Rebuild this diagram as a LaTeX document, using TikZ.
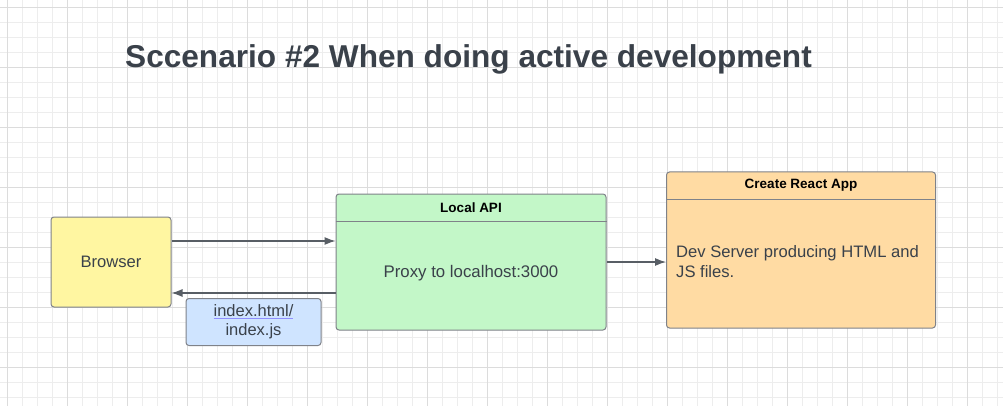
\documentclass[tikz,border=0pt]{standalone}
\usepackage{fontspec}
\setmainfont{Liberation Sans}
\usepackage{tikz}
\usetikzlibrary{arrows.meta,positioning}
\definecolor{ink}{HTML}{3A414A}
\definecolor{edge}{HTML}{7F8289}
\definecolor{gridminor}{HTML}{EDEDED}
\definecolor{gridmajor}{HTML}{DCDCDC}
\definecolor{browserfill}{HTML}{FFF6A1}
\definecolor{apifill}{HTML}{C3F7C8}
\definecolor{crafill}{HTML}{FFDBA3}
\definecolor{filefill}{HTML}{CFE4FF}
\definecolor{linkline}{HTML}{8F8FFF}

\begin{document}
\begin{tikzpicture}[x=1pt,y=-1pt,>={Latex[length=11pt,width=8pt]}]
\tikzstyle{box}=[rectangle,draw=edge,line width=1pt,rounded corners=3pt,text=ink,font=\fontsize{16.6}{20}\selectfont,inner sep=0pt]
\tikzstyle{head}=[font=\bfseries\fontsize{13.5}{15}\selectfont,text=black,inner sep=0pt]
\tikzstyle{link}=[draw=ink!85,line width=1.2pt]
\useasboundingbox (0,0) rectangle (1003,406);
\fill[white] (0,0) rectangle (1003,406);
% grid
\foreach \g in {7,22,...,1003} {\draw[gridminor,line width=0.8pt] (\g,0) -- (\g,406);}
\foreach \g in {7,22,...,406} {\draw[gridminor,line width=0.8pt] (0,\g) -- (1003,\g);}
\foreach \g in {7,67,...,1003} {\draw[gridmajor,line width=0.8pt] (\g,0) -- (\g,406);}
\foreach \g in {7,67,...,406} {\draw[gridmajor,line width=0.8pt] (0,\g) -- (1003,\g);}
% title
\node[anchor=base west,font=\bfseries\fontsize{31.6}{36}\selectfont,text=ink,inner sep=0pt] (title) at (125,68) {Sccenario \#2 When doing active development};
% boxes
\node[box,fill=browserfill,minimum width=120pt,minimum height=90pt] (browser) at (111,262) {Browser};
\node[box,fill=apifill,minimum width=270pt,minimum height=136pt] (api) at (471,262) {};
\node[box,fill=crafill,minimum width=269pt,minimum height=156pt] (cra) at (801,250) {};
\node[box,fill=filefill,minimum width=135pt,minimum height=47pt,align=center,font=\fontsize{16.5}{19}\selectfont] (files) at (253.5,322) {{\color{linkline}\underline{\textcolor{ink}{index.html/}}}\\index.js};
% headers
\node[head] (apihead) at ([yshift=-14pt]api.north) {Local API};
\draw[edge,line width=1pt] ([yshift=-28pt]api.north west) -- ([yshift=-28pt]api.north east);
\node[head] (crahead) at ([yshift=-14pt]cra.north) {Create React App};
\draw[edge,line width=1pt] ([yshift=-28pt]cra.north west) -- ([yshift=-28pt]cra.north east);
% body texts
\node[text=ink,font=\fontsize{16.8}{20}\selectfont,inner sep=0pt] (apibody) at ([yshift=-11pt]api.center) {Proxy to localhost:3000};
\node[anchor=west,align=left,text=ink,font=\fontsize{16.6}{20}\selectfont,inner sep=0pt] (crabody) at ([xshift=10pt,yshift=-12pt]cra.west) {Dev Server producing HTML and\\JS files.};
% connectors
\draw[link,->] ([yshift=21pt]browser.east) -- ([yshift=21pt]api.west);
\draw[link,->] ([yshift=-31pt]api.west) -- ([yshift=-31pt]browser.east);
\draw[link,->] (api.east) -- (api.east -| cra.west);
\end{tikzpicture}
\end{document}
